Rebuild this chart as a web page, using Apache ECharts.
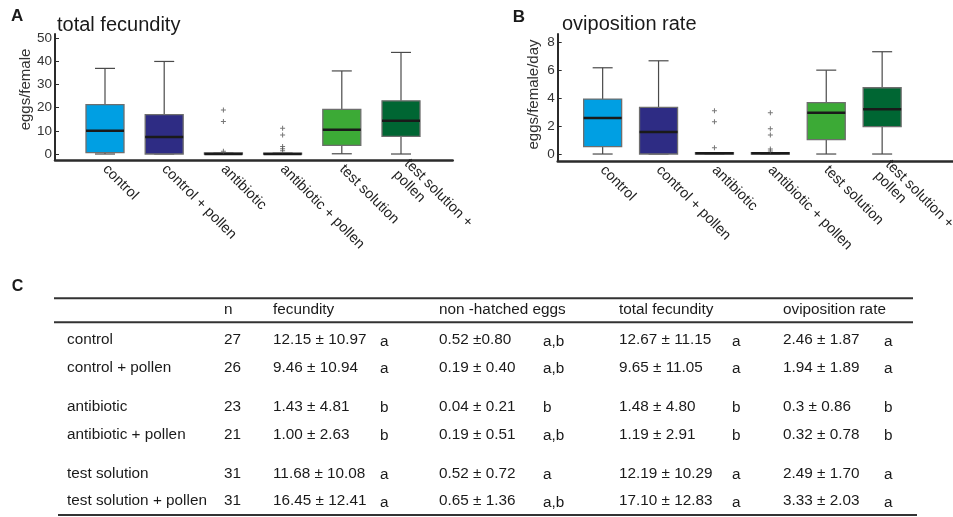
<!DOCTYPE html>
<html>
<head>
<meta charset="utf-8">
<script src="https://cdn.jsdelivr.net/npm/echarts@6/dist/echarts.min.js"></script>
<style>
  html, body { margin: 0; padding: 0; background: #fff; }
  #chart { width: 953px; height: 517px; }
</style>
</head>
<body>
<div id="chart"></div>
<script>
'use strict';

const groups = ['control', 'control + pollen', 'antibiotic', 'antibiotic + pollen', 'test solution', 'test solution + pollen'];
const axisLabelText = ['control', 'control + pollen', 'antibiotic', 'antibiotic + pollen', 'test solution', 'test solution +\npollen'];
const boxColors = ['#009fe3', '#2e2c84', '#8c8c8c', '#8c8c8c', '#3caa36', '#006633'];

// [min, q1, median, q3, max]
const fecundityBoxes = [
    [0, 0.6, 10.1, 21.3, 37.0],
    [0, 0, 7.3, 17.0, 40.0],
    [0, 0, 0, 0.5, 0.5],
    [0, 0, 0, 0.4, 0.4],
    [0.1, 3.7, 10.5, 19.3, 35.9],
    [0, 7.6, 14.4, 23.0, 43.9]
];
const fecundityOutliers = [[2, 19.0], [2, 14.1], [2, 1.15], [3, 11.1], [3, 8.2], [3, 3.2], [3, 2.3], [3, 1.4]];
const fecundityTicks = [0, 10, 20, 30, 40, 50];

const ovipositionBoxes = [
    [0, 0.53, 2.58, 3.94, 6.18],
    [0, 0, 1.58, 3.34, 6.68],
    [0, 0, 0.05, 0.1, 0.1],
    [0, 0, 0.05, 0.1, 0.1],
    [0, 1.03, 2.96, 3.68, 6.01],
    [0, 1.96, 3.2, 4.75, 7.33]
];
const ovipositionOutliers = [[2, 3.1], [2, 2.31], [2, 0.45], [3, 2.96], [3, 1.81], [3, 1.36], [3, 0.36], [3, 0.21]];
const ovipositionTicks = [0, 2, 4, 6, 8];

// table C
const tableHeader = ['n', 'fecundity', 'non -hatched eggs', 'total fecundity', 'oviposition rate'];
const tableN = ['27', '26', '23', '21', '31', '31'];
const tableFecundity = ['12.15 ± 10.97', '9.46 ± 10.94', '1.43 ± 4.81', '1.00 ± 2.63', '11.68 ± 10.08', '16.45 ± 12.41'];
const fecundityLetters = ['a', 'a', 'b', 'b', 'a', 'a'];
const tableNonHatched = ['0.52 ±0.80', '0.19 ± 0.40', '0.04 ± 0.21', '0.19 ± 0.51', '0.52 ± 0.72', '0.65 ± 1.36'];
const nonHatchedLetters = ['a,b', 'a,b', 'b', 'a,b', 'a', 'a,b'];
const tableTotal = ['12.67 ± 11.15', '9.65 ± 11.05', '1.48 ± 4.80', '1.19 ± 2.91', '12.19 ± 10.29', '17.10 ± 12.83'];
const totalLetters = ['a', 'a', 'b', 'b', 'a', 'a'];
const tableOviposition = ['2.46 ± 1.87', '1.94 ± 1.89', '0.3 ± 0.86', '0.32 ± 0.78', '2.49 ± 1.70', '3.33 ± 2.03'];
const ovipositionLetters = ['a', 'a', 'b', 'b', 'a', 'a'];

const FONT = '"Liberation Sans", Arial, Helvetica, sans-serif';
const INK = '#1a1a1a';

function renderBox(params, api) {
    const i = api.value(0);
    const pt = k => api.coord([i, api.value(k)]);
    const lo = pt(1), q1 = pt(2), med = pt(3), q3 = pt(4), hi = pt(5);
    const cx = lo[0];
    const bw = 38, cw = 20;
    const ws = { stroke: '#4a4a4a', lineWidth: 1.2 };
    return {
        type: 'group',
        children: [
            { type: 'line', shape: { x1: cx, y1: q3[1], x2: cx, y2: hi[1] }, style: ws },
            { type: 'line', shape: { x1: cx, y1: q1[1], x2: cx, y2: lo[1] }, style: ws },
            { type: 'line', shape: { x1: cx - cw / 2, y1: hi[1], x2: cx + cw / 2, y2: hi[1] }, style: ws },
            { type: 'line', shape: { x1: cx - cw / 2, y1: lo[1], x2: cx + cw / 2, y2: lo[1] }, style: ws },
            { type: 'rect', shape: { x: cx - bw / 2, y: q3[1], width: bw, height: q1[1] - q3[1] },
              style: { fill: api.visual('color'), stroke: '#6e6e6e', lineWidth: 1.3 } },
            { type: 'line', shape: { x1: cx - bw / 2, y1: med[1], x2: cx + bw / 2, y2: med[1] },
              style: { stroke: '#1a1a1a', lineWidth: 2.5 } }
        ]
    };
}

const grid = [], xAxis = [], yAxis = [], series = [];

function addPanel(p) {
    const g0 = grid.length;
    // grid holding the visible axis lines
    grid.push({ left: p.axisLeft, top: p.top, width: p.axisWidth, height: p.height, outerBoundsMode: 'none' });
    // grid holding the boxes (narrower, same vertical extent)
    grid.push({ left: p.boxLeft, top: p.top, width: p.boxWidth, height: p.height, outerBoundsMode: 'none' });

    xAxis.push({
        type: 'value', gridIndex: g0, min: 0, max: 1,
        axisLine: { onZero: false, lineStyle: { color: '#2b2b2b', width: 2.5 } },
        axisTick: { show: false }, axisLabel: { show: false }, splitLine: { show: false }
    });
    xAxis.push({
        type: 'category', gridIndex: g0 + 1, data: axisLabelText,
        axisLine: { show: false }, axisTick: { show: false }, splitLine: { show: false },
        axisLabel: { interval: 0, rotate: -45, margin: 7, fontSize: 14.5, color: '#222', fontFamily: FONT, lineHeight: 16 }
    });
    yAxis.push({
        type: 'value', gridIndex: g0, min: p.min, max: p.max,
        name: p.name, nameLocation: 'middle', nameGap: p.nameGap,
        nameTextStyle: { fontSize: 15, color: '#333', fontFamily: FONT, padding: [0, 0, 0, p.namePad] },
        axisLine: { onZero: false, lineStyle: { color: '#2b2b2b', width: 2 } },
        axisTick: { inside: true, length: 4, customValues: p.ticks, lineStyle: { color: '#2b2b2b' } },
        axisLabel: { customValues: p.ticks, margin: 3, fontSize: 13.5, color: '#333', fontFamily: FONT },
        splitLine: { show: false }
    });
    yAxis.push({
        type: 'value', gridIndex: g0 + 1, min: p.min, max: p.max, show: false, splitLine: { show: false }
    });

    series.push({
        type: 'custom', xAxisIndex: g0 + 1, yAxisIndex: g0 + 1,
        renderItem: renderBox,
        encode: { x: 0, y: [1, 2, 3, 4, 5] },
        data: p.boxes.map((b, i) => ({ value: [i].concat(b), itemStyle: { color: boxColors[i] } })),
        silent: true
    });
    series.push({
        type: 'scatter', xAxisIndex: g0 + 1, yAxisIndex: g0 + 1,
        symbol: 'path://M2,0H3V2H5V3H3V5H2V3H0V2H2Z', symbolSize: 5,
        itemStyle: { color: '#555' },
        data: p.outliers, silent: true
    });
}

addPanel({
    axisLeft: 55, axisWidth: 397.7, boxLeft: 75.4, boxWidth: 355.2, top: 34, height: 126,
    min: -2.59, max: 51.86, ticks: fecundityTicks,
    name: 'eggs/female', nameGap: 21, namePad: 15,
    boxes: fecundityBoxes, outliers: fecundityOutliers
});
addPanel({
    axisLeft: 557.7, axisWidth: 395.3, boxLeft: 574.7, boxWidth: 335.4, top: 34, height: 127,
    min: -0.5, max: 8.6, ticks: ovipositionTicks,
    name: 'eggs/female/day', nameGap: 16, namePad: 6,
    boxes: ovipositionBoxes, outliers: ovipositionOutliers
});

// ---------------------------------------------------------------------------------------------
// labels, titles and table
const elements = [];

function txt(x, y, text, size, weight) {
    elements.push({
        type: 'text', x: x, y: y, silent: true,
        style: { text: text, fontSize: size, fontWeight: weight || 'normal', fontFamily: FONT,
                 fill: INK, align: 'left', verticalAlign: 'middle' }
    });
}
function rule(x1, x2, y) {
    elements.push({ type: 'line', silent: true, shape: { x1: x1, y1: y, x2: x2, y2: y },
                    style: { stroke: '#333', lineWidth: 2 } });
}

txt(11, 16, 'A', 17, 'bold');
txt(512.7, 17, 'B', 17, 'bold');
txt(11.7, 287, 'C', 16, 'bold');
txt(57, 25, 'total fecundity', 20);
txt(562, 24.5, 'oviposition rate', 20);

const col = { name: 67, n: 224, fec: 273, fecL: 380, nh: 439, nhL: 543, tf: 619, tfL: 732, ov: 783, ovL: 884 };
const headerX = [col.n, col.fec, col.nh, col.tf, col.ov];
const rowY = i => 340 + i * 27.7 + Math.floor(i / 2) * 11.3;
const TS = 15.3;

rule(54, 913, 298.3);
rule(54, 913, 322.3);
rule(58, 917, 515);
tableHeader.forEach((h, k) => txt(headerX[k], 310, h, TS));

groups.forEach((g, i) => {
    const y = rowY(i);
    txt(col.name, y, g, TS);
    txt(col.n, y, tableN[i], TS);
    txt(col.fec, y, tableFecundity[i], TS);
    txt(col.fecL, y + 1.5, fecundityLetters[i], TS);
    txt(col.nh, y, tableNonHatched[i], TS);
    txt(col.nhL, y + 1.5, nonHatchedLetters[i], TS);
    txt(col.tf, y, tableTotal[i], TS);
    txt(col.tfL, y + 1.5, totalLetters[i], TS);
    txt(col.ov, y, tableOviposition[i], TS);
    txt(col.ovL, y + 1.5, ovipositionLetters[i], TS);
});

const chart = echarts.init(document.getElementById('chart'), null, { renderer: 'canvas' });
chart.setOption({
    backgroundColor: '#fff',
    animation: false,
    grid: grid,
    xAxis: xAxis,
    yAxis: yAxis,
    series: series,
    graphic: { elements: elements }
});
</script>
</body>
</html>
